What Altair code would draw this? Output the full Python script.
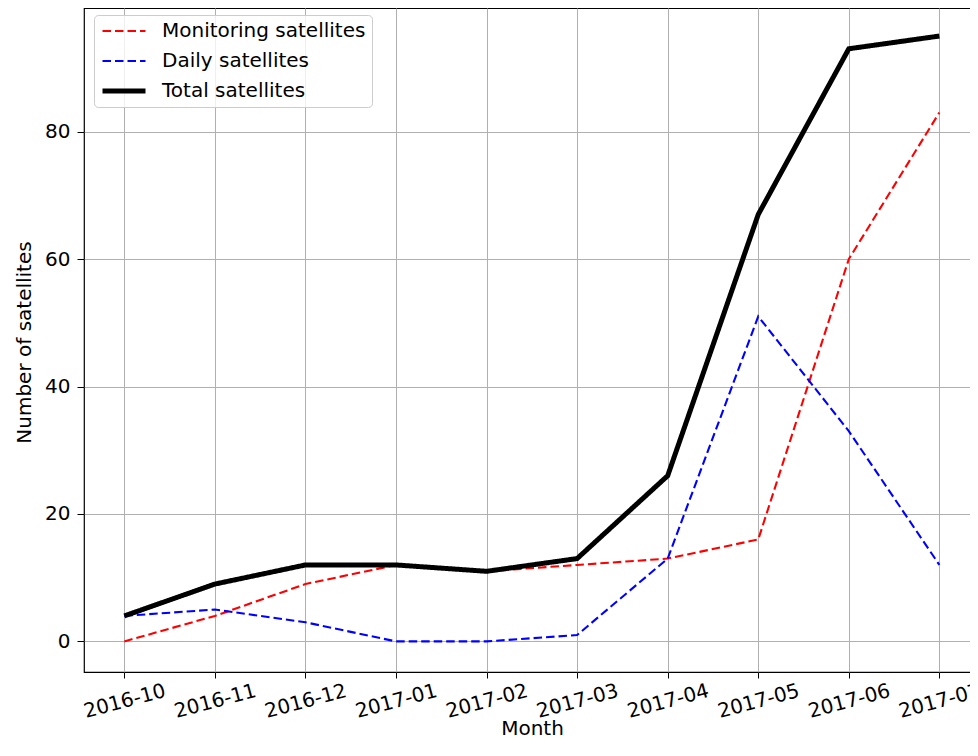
import altair as alt
import pandas as pd

months = ["2016-10", "2016-11", "2016-12", "2017-01", "2017-02",
          "2017-03", "2017-04", "2017-05", "2017-06", "2017-07"]
series_names = ["Monitoring satellites", "Daily satellites", "Total satellites"]
monitoring = [0, 4, 9, 12, 11, 12, 13, 16, 60, 83]
daily = [4, 5, 3, 0, 0, 1, 13, 51, 33, 12]
total = [4, 9, 12, 12, 11, 13, 26, 67, 93, 95]

rows = []
for name, vals in zip(series_names, [monitoring, daily, total]):
    for i, (m, v) in enumerate(zip(months, vals)):
        rows.append({"series": name, "idx": i, "month": m, "value": v})
df = pd.DataFrame(rows)

label_expr = "[" + ",".join(f"'{m}'" for m in months) + "][datum.value]"
FONT = "DejaVu Sans"
FS = 20

chart = alt.Chart(df).mark_line(clip=True).encode(
    x=alt.X(
        "idx:Q",
        scale=alt.Scale(domain=[-0.445, 9.559], nice=False, zero=False),
        axis=alt.Axis(
            values=list(range(len(months))),
            labelExpr=label_expr,
            labelAngle=345,
            labelAlign="center",
            labelBaseline="middle",
            tickSize=6,
            labelPadding=23,
            title="Month",
            titleX=448,
            titleY=62,
            titleAlign="center",
            titleBaseline="alphabetic",
        ),
    ),
    y=alt.Y(
        "value:Q",
        scale=alt.Scale(domain=[-4.8, 99.4], nice=False, zero=False),
        axis=alt.Axis(
            values=[0, 20, 40, 60, 80],
            tickSize=7,
            labelPadding=7,
            title="Number of satellites",
            titleX=-60,
            titleY=334,
            titleAngle=270,
            titleAlign="center",
            titleBaseline="middle",
        ),
    ),
    color=alt.Color(
        "series:N",
        scale=alt.Scale(domain=series_names, range=["#ff0000", "#0000ff", "#000000"]),
        sort=series_names,
        title=None,
    ),
    strokeDash=alt.StrokeDash(
        "series:N",
        scale=alt.Scale(domain=series_names, range=[[8.5, 4], [8.5, 4], [1, 0]]),
        sort=series_names,
        title=None,
    ),
    strokeWidth=alt.StrokeWidth(
        "series:N",
        scale=alt.Scale(type="ordinal", domain=series_names, range=[2.1, 2.1, 5]),
        sort=series_names,
        title=None,
    ),
).properties(
    width=906,
    height=664,
    autosize=alt.AutoSizeParams(type="none"),
    padding={"left": 76, "top": 0, "right": -20, "bottom": 67},
).configure_view(
    stroke="#000000",
    strokeWidth=1.2,
).configure_axis(
    grid=True,
    gridColor="#b0b0b0",
    gridWidth=1,
    domain=False,
    tickColor="#000000",
    tickWidth=1,
    labelFont=FONT,
    labelFontSize=FS,
    labelColor="#000000",
    titleFont=FONT,
    titleFontSize=FS,
    titleFontWeight="normal",
    titleColor="#000000",
).configure_legend(
    orient="none",
    legendX=10,
    legendY=7,
    fillColor="rgba(255,255,255,0.8)",
    strokeColor="#cccccc",
    cornerRadius=4,
    padding=6,
    symbolType="stroke",
    symbolSize=1849,
    clipHeight=20,
    rowPadding=10,
    labelFont=FONT,
    labelFontSize=FS,
    labelColor="#000000",
    labelOffset=14,
    labelLimit=400,
)

chart.save("out.html", embed_options={"renderer": "svg", "actions": False})
